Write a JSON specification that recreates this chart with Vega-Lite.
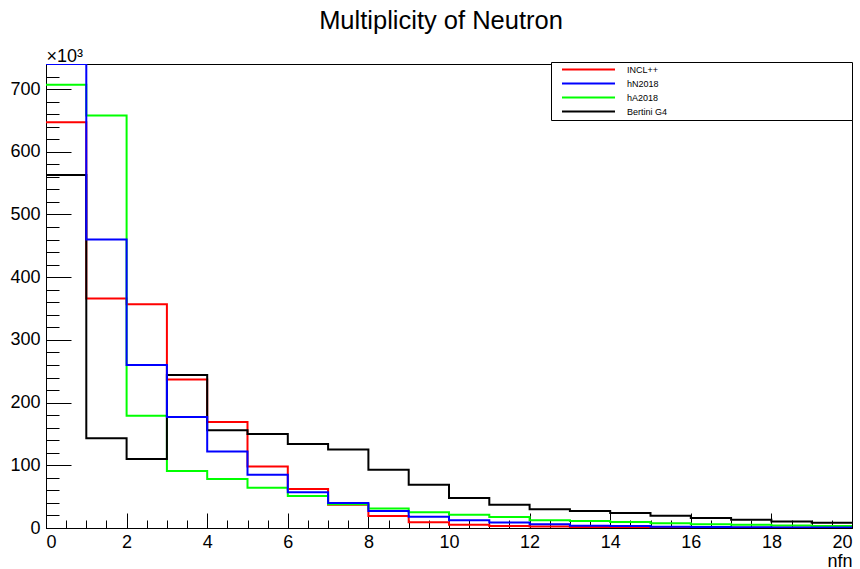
{
  "$schema": "https://vega.github.io/schema/vega-lite/v6.json",
  "width": 806,
  "height": 464,
  "autosize": {"type": "none"},
  "padding": {"left": 46, "top": 64, "right": 8, "bottom": 41},
  "background": "white",
  "title": {
    "text": "Multiplicity of Neutron",
    "font": "Liberation Sans",
    "fontSize": 25.5,
    "fontWeight": "normal",
    "color": "black",
    "anchor": "middle",
    "frame": "group",
    "baseline": "alphabetic",
    "offset": -7,
    "dx": -8
  },
  "config": {
    "view": {"stroke": "black", "strokeWidth": 1},
    "axis": {
      "grid": false,
      "domainColor": "black",
      "tickColor": "black",
      "labelColor": "black",
      "titleColor": "black",
      "labelFont": "Liberation Sans",
      "titleFont": "Liberation Sans",
      "labelFontSize": 18,
      "titleFontSize": 18,
      "titleFontWeight": "normal"
    }
  },
  "data": {
    "values": [
      {"series": "INCL++", "nfn": 0, "entries": 647000},
      {"series": "INCL++", "nfn": 1, "entries": 366000},
      {"series": "INCL++", "nfn": 2, "entries": 357000},
      {"series": "INCL++", "nfn": 3, "entries": 237000},
      {"series": "INCL++", "nfn": 4, "entries": 169000},
      {"series": "INCL++", "nfn": 5, "entries": 98000},
      {"series": "INCL++", "nfn": 6, "entries": 62000},
      {"series": "INCL++", "nfn": 7, "entries": 37000},
      {"series": "INCL++", "nfn": 8, "entries": 19000},
      {"series": "INCL++", "nfn": 9, "entries": 9000},
      {"series": "INCL++", "nfn": 10, "entries": 5000},
      {"series": "INCL++", "nfn": 11, "entries": 3200},
      {"series": "INCL++", "nfn": 12, "entries": 2200},
      {"series": "INCL++", "nfn": 13, "entries": 1500},
      {"series": "INCL++", "nfn": 14, "entries": 1200},
      {"series": "INCL++", "nfn": 15, "entries": 900},
      {"series": "INCL++", "nfn": 16, "entries": 600},
      {"series": "INCL++", "nfn": 17, "entries": 400},
      {"series": "INCL++", "nfn": 18, "entries": 300},
      {"series": "INCL++", "nfn": 19, "entries": 200},
      {"series": "INCL++", "nfn": 20, "entries": 200},
      {"series": "hA2018", "nfn": 0, "entries": 707000},
      {"series": "hA2018", "nfn": 1, "entries": 658000},
      {"series": "hA2018", "nfn": 2, "entries": 179000},
      {"series": "hA2018", "nfn": 3, "entries": 91000},
      {"series": "hA2018", "nfn": 4, "entries": 78000},
      {"series": "hA2018", "nfn": 5, "entries": 64000},
      {"series": "hA2018", "nfn": 6, "entries": 51000},
      {"series": "hA2018", "nfn": 7, "entries": 38000},
      {"series": "hA2018", "nfn": 8, "entries": 31000},
      {"series": "hA2018", "nfn": 9, "entries": 25000},
      {"series": "hA2018", "nfn": 10, "entries": 21000},
      {"series": "hA2018", "nfn": 11, "entries": 17500},
      {"series": "hA2018", "nfn": 12, "entries": 12500},
      {"series": "hA2018", "nfn": 13, "entries": 11000},
      {"series": "hA2018", "nfn": 14, "entries": 9500},
      {"series": "hA2018", "nfn": 15, "entries": 7500},
      {"series": "hA2018", "nfn": 16, "entries": 6000},
      {"series": "hA2018", "nfn": 17, "entries": 5000},
      {"series": "hA2018", "nfn": 18, "entries": 4000},
      {"series": "hA2018", "nfn": 19, "entries": 3200},
      {"series": "hA2018", "nfn": 20, "entries": 3200},
      {"series": "Bertini G4", "nfn": 0, "entries": 563000},
      {"series": "Bertini G4", "nfn": 1, "entries": 143000},
      {"series": "Bertini G4", "nfn": 2, "entries": 110000},
      {"series": "Bertini G4", "nfn": 3, "entries": 244000},
      {"series": "Bertini G4", "nfn": 4, "entries": 156000},
      {"series": "Bertini G4", "nfn": 5, "entries": 150000},
      {"series": "Bertini G4", "nfn": 6, "entries": 134000},
      {"series": "Bertini G4", "nfn": 7, "entries": 125000},
      {"series": "Bertini G4", "nfn": 8, "entries": 93000},
      {"series": "Bertini G4", "nfn": 9, "entries": 69000},
      {"series": "Bertini G4", "nfn": 10, "entries": 48000},
      {"series": "Bertini G4", "nfn": 11, "entries": 37000},
      {"series": "Bertini G4", "nfn": 12, "entries": 30000},
      {"series": "Bertini G4", "nfn": 13, "entries": 27000},
      {"series": "Bertini G4", "nfn": 14, "entries": 24000},
      {"series": "Bertini G4", "nfn": 15, "entries": 19500},
      {"series": "Bertini G4", "nfn": 16, "entries": 16000},
      {"series": "Bertini G4", "nfn": 17, "entries": 13000},
      {"series": "Bertini G4", "nfn": 18, "entries": 10500},
      {"series": "Bertini G4", "nfn": 19, "entries": 8500},
      {"series": "Bertini G4", "nfn": 20, "entries": 8500},
      {"series": "hN2018", "nfn": 0, "entries": 740000},
      {"series": "hN2018", "nfn": 1, "entries": 460000},
      {"series": "hN2018", "nfn": 2, "entries": 260000},
      {"series": "hN2018", "nfn": 3, "entries": 177000},
      {"series": "hN2018", "nfn": 4, "entries": 122000},
      {"series": "hN2018", "nfn": 5, "entries": 85000},
      {"series": "hN2018", "nfn": 6, "entries": 57000},
      {"series": "hN2018", "nfn": 7, "entries": 40000},
      {"series": "hN2018", "nfn": 8, "entries": 27000},
      {"series": "hN2018", "nfn": 9, "entries": 18000},
      {"series": "hN2018", "nfn": 10, "entries": 12500},
      {"series": "hN2018", "nfn": 11, "entries": 8600},
      {"series": "hN2018", "nfn": 12, "entries": 6000},
      {"series": "hN2018", "nfn": 13, "entries": 3500},
      {"series": "hN2018", "nfn": 14, "entries": 3000},
      {"series": "hN2018", "nfn": 15, "entries": 2000},
      {"series": "hN2018", "nfn": 16, "entries": 1500},
      {"series": "hN2018", "nfn": 17, "entries": 1000},
      {"series": "hN2018", "nfn": 18, "entries": 800},
      {"series": "hN2018", "nfn": 19, "entries": 600},
      {"series": "hN2018", "nfn": 20, "entries": 600}
    ]
  },
  "layer": [
    {
      "transform": [{"filter": "datum.series !== 'hN2018'"}],
      "mark": {"type": "line", "interpolate": "step-after", "strokeWidth": 2, "clip": true},
      "encoding": {
        "x": {
          "field": "nfn", "type": "quantitative",
          "scale": {"domain": [0, 20], "nice": false, "zero": false},
          "axis": {
            "orient": "bottom",
            "values": [0,0.5,1,1.5,2,2.5,3,3.5,4,4.5,5,5.5,6,6.5,7,7.5,8,8.5,9,9.5,10,10.5,11,11.5,12,12.5,13,13.5,14,14.5,15,15.5,16,16.5,17,17.5,18,18.5,19,19.5,20],
            "tickSize": -8,
            "labels": false,
            "title": null
          }
        },
        "y": {
          "field": "entries", "type": "quantitative",
          "scale": {"domain": [0, 740000], "nice": false},
          "axis": {
            "orient": "left",
            "values": [0,20000,40000,60000,80000,100000,120000,140000,160000,180000,200000,220000,240000,260000,280000,300000,320000,340000,360000,380000,400000,420000,440000,460000,480000,500000,520000,540000,560000,580000,600000,620000,640000,660000,680000,700000,720000,740000],
            "tickSize": -13,
            "labels": false,
            "title": null
          }
        },
        "color": {
          "field": "series", "type": "nominal",
          "scale": {
            "domain": ["INCL++", "hN2018", "hA2018", "Bertini G4"],
            "range": ["#ff0000", "#0000ff", "#00ff00", "#000000"]
          },
          "legend": {
            "orient": "none",
            "legendX": 505,
            "legendY": -2,
            "title": "\u200b\u00a0\u00a0\u00a0\u00a0\u00a0\u00a0\u00a0\u00a0\u00a0\u00a0\u00a0\u00a0\u00a0\u00a0\u00a0\u00a0\u00a0\u00a0\u00a0\u00a0\u00a0\u00a0\u00a0\u00a0\u00a0\u00a0\u00a0\u00a0\u00a0\u00a0\u00a0\u200b",
            "titleOrient": "right",
            "titleFont": "Liberation Sans",
            "titleFontSize": 20,
            "titlePadding": 9,
            "symbolType": "stroke",
            "symbolSize": 2809,
            "symbolStrokeWidth": 2,
            "symbolOffset": 7,
            "clipHeight": 9,
            "labelFont": "Liberation Sans",
            "labelFontSize": 9,
            "labelColor": "black",
            "labelOffset": 11,
            "fillColor": "white",
            "strokeColor": "black",
            "padding": 3,
            "rowPadding": 4
          }
        }
      }
    },
    {
      "transform": [{"filter": "datum.series === 'hN2018'"}],
      "mark": {"type": "line", "interpolate": "step-after", "strokeWidth": 2, "clip": true},
      "encoding": {
        "x": {
          "field": "nfn", "type": "quantitative",
          "axis": {
            "orient": "bottom",
            "values": [0,2,4,6,8,10,12,14,16,18,20],
            "tickSize": -15,
            "labelPadding": 20,
            "title": "nfn",
            "titleAnchor": "end",
            "titleAlign": "right",
            "titleBaseline": "alphabetic",
            "titleX": 806,
            "titleY": 38
          }
        },
        "y": {
          "field": "entries", "type": "quantitative",
          "axis": {
            "orient": "left",
            "values": [0,100000,200000,300000,400000,500000,600000,700000],
            "tickSize": -25,
            "labelPadding": 31,
            "labelExpr": "format(datum.value / 1000, 'd')",
            "title": "×10³",
            "titleAngle": 0,
            "titleAlign": "left",
            "titleBaseline": "alphabetic",
            "titleX": 0,
            "titleY": -3
          }
        },
        "color": {"field": "series", "type": "nominal"}
      }
    }
  ],
  "resolve": {"axis": {"x": "independent", "y": "independent"}}
}
